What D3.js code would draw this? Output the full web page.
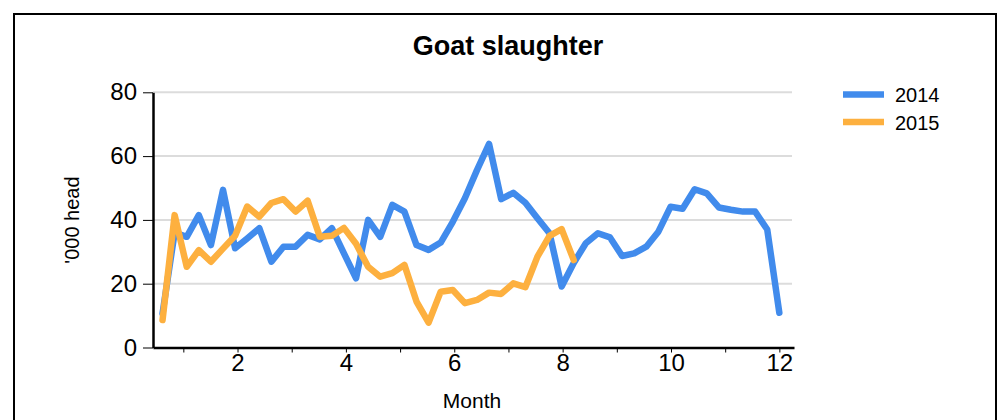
<!DOCTYPE html>
<html>
<head>
<meta charset="utf-8">
<script src="https://cdn.jsdelivr.net/npm/d3@7"></script>
<style>
  body { margin: 0; background: #fff; }
  text { font-family: "Liberation Sans", Arial, sans-serif; }
</style>
</head>
<body>
<script>
// weekly goat slaughter, '000 head
var values2014 = [10.7, 36, 34.7, 41.5, 32.1, 49.4, 31.1, 34.2, 37.4, 26.9,
  31.6, 31.6, 35.3, 33.9, 37.4, 29.5, 21.7, 40, 34.7, 44.7,
  42.6, 32.1, 30.6, 32.9, 39.4, 46.8, 55.6, 63.8, 46.5, 48.5,
  45.4, 40.5, 35.8, 19.1, 26.5, 32.7, 35.8, 34.5, 28.7, 29.5,
  31.6, 36.3, 44.1, 43.5, 49.6, 48.3, 43.9, 43.2, 42.6, 42.6,
  37, 10.9];
var values2015 = [8.6, 41.5, 25.3, 30.5, 26.9, 31, 35, 44.2, 41, 45.3,
  46.5, 42.6, 46, 34.7, 35, 37.5, 32.5, 25.3, 22.2, 23.3,
  25.9, 14.4, 7.8, 17.5, 18, 13.9, 14.9, 17.2, 16.8, 20.1,
  18.9, 28.5, 35, 37.1, 27.4];
var seriesNames = ["2014", "2015"];
var colors = ["#418bec", "#fdb03f"];
var yTicks = [0, 20, 40, 60, 80];
var xTicks = [1, 2, 3, 4, 5, 6, 7, 8, 9, 10, 11, 12];
// week n sits at this position on the month axis
var firstWeekMonth = 0.616;
var monthsPerWeek = 0.2232;

function drawChart() {
  var svg = d3.select("body").append("svg")
    .attr("width", 1003)
    .attr("height", 420);

  // outer frame
  svg.append("rect")
    .attr("x", 14)
    .attr("y", 14)
    .attr("width", 982)
    .attr("height", 430)
    .attr("fill", "none")
    .attr("stroke", "#000")
    .attr("stroke-width", 2);

  var x = d3.scaleLinear().domain([0.44, 12.27]).range([153, 794]);
  var y = d3.scaleLinear().domain([0, 80]).range([347.5, 92.3]);

  // gridlines
  svg.append("g").selectAll("line")
    .data(yTicks.filter(function (d) { return d > 0; }))
    .enter().append("line")
    .attr("x1", 153)
    .attr("x2", 792)
    .attr("y1", function (d) { return y(d); })
    .attr("y2", function (d) { return y(d); })
    .attr("stroke", "#dcdcdc")
    .attr("stroke-width", 2);

  // x axis
  var xAxis = svg.append("g")
    .attr("transform", "translate(0," + y(0) + ")")
    .call(d3.axisBottom(x).tickValues(xTicks).tickSize(5).tickSizeOuter(0)
      .tickFormat(function (d) { return d % 2 === 0 ? d : ""; }));
  // y axis
  var yAxis = svg.append("g")
    .attr("transform", "translate(153,0)")
    .call(d3.axisLeft(y).tickValues(yTicks).tickSize(10).tickSizeOuter(0).tickPadding(6));

  [xAxis, yAxis].forEach(function (g) {
    g.select(".domain").attr("stroke", "#000").attr("stroke-width", 2.5);
    g.selectAll(".tick line").attr("stroke", "#000").attr("stroke-width", 1);
    g.selectAll(".tick text").attr("fill", "#000")
      .style("font-size", "24px")
      .style("font-family", "'Liberation Sans', Arial, sans-serif");
  });
  xAxis.selectAll(".tick text").attr("y", 6).attr("dy", "0.71em");

  // lines
  var line = d3.line()
    .x(function (d, i) { return x(firstWeekMonth + i * monthsPerWeek); })
    .y(function (d) { return y(d); });

  [values2014, values2015].forEach(function (vals, k) {
    svg.append("path")
      .datum(vals)
      .attr("d", line)
      .attr("fill", "none")
      .attr("stroke", colors[k])
      .attr("stroke-width", 6.5)
      .attr("stroke-linejoin", "round")
      .attr("stroke-linecap", "round");
  });

  // titles
  svg.append("text")
    .attr("x", 508)
    .attr("y", 55)
    .attr("text-anchor", "middle")
    .attr("font-weight", "bold")
    .style("font-size", "27px")
    .text("Goat slaughter");

  svg.append("text")
    .attr("x", 472)
    .attr("y", 408)
    .attr("text-anchor", "middle")
    .style("font-size", "21px")
    .text("Month");

  svg.append("text")
    .attr("transform", "translate(79,220) rotate(-90)")
    .attr("text-anchor", "middle")
    .style("font-size", "20px")
    .text("'000 head");

  // legend
  var legend = svg.append("g")
    .selectAll("g")
    .data(seriesNames)
    .enter().append("g")
    .attr("transform", function (d, i) { return "translate(843," + (94.5 + i * 27.5) + ")"; });
  legend.append("line")
    .attr("x1", 0)
    .attr("x2", 41)
    .attr("stroke", function (d, i) { return colors[i]; })
    .attr("stroke-width", 6.5);
  legend.append("text")
    .attr("x", 52)
    .attr("y", 7.5)
    .style("font-size", "20px")
    .text(function (d) { return d; });
}

drawChart();
</script>
</body>
</html>
